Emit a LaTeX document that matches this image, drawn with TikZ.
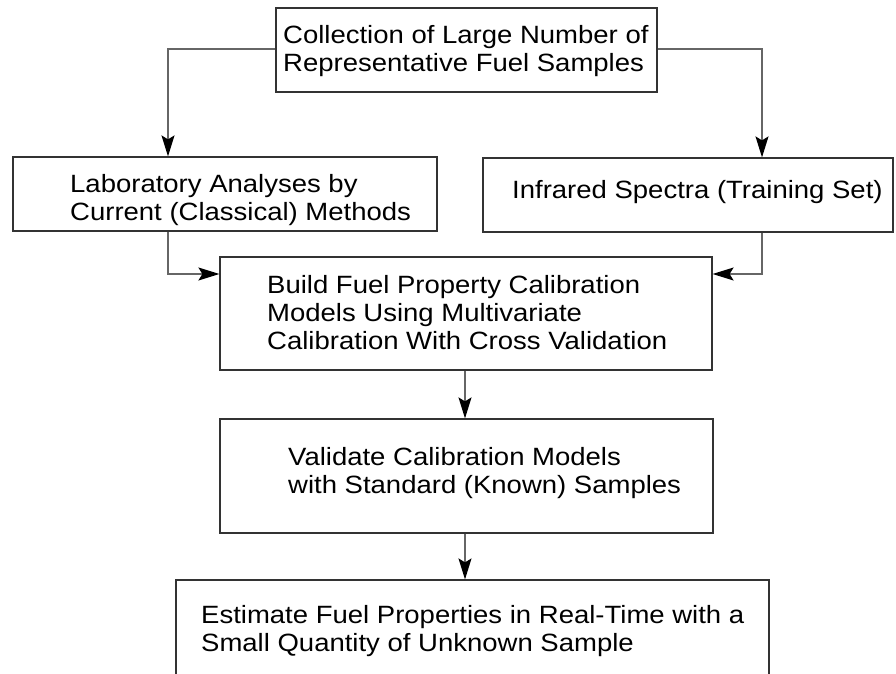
\documentclass[tikz,border=0pt]{standalone}
\usepackage{fontspec}
\setmainfont{Liberation Sans}[FakeStretch=1.1]
\usetikzlibrary{arrows.meta}
\begin{document}
\begin{tikzpicture}[x=1pt,y=-1pt,
  boxshape/.style={draw=black!80,line width=1.2pt,inner sep=0pt},
  txt/.style={anchor=base west,align=left,inner sep=0pt,font=\fontsize{25}{28.3}\selectfont},
  conn/.style={draw=black!60,line width=1.4pt,-{Stealth[length=21pt,width=13pt,inset=4pt,fill=black,color=black]}}]
\useasboundingbox (0,0) rectangle (896,674);
\clip (0,0) rectangle (896,674);
% boxes
\node[boxshape,minimum width=381pt,minimum height=84pt] (top) at (466.5,50) {};
\node[boxshape,minimum width=424pt,minimum height=74pt] (lab) at (225,194) {};
\node[boxshape,minimum width=410pt,minimum height=74pt] (ir) at (688,195) {};
\node[boxshape,minimum width=492pt,minimum height=113pt] (build) at (466,313.5) {};
\node[boxshape,minimum width=493pt,minimum height=114pt] (valid) at (466.5,476) {};
\node[boxshape,minimum width=593pt,minimum height=140pt] (est) at (472.5,650) {};
% texts (anchor at baseline of last line)
\node[txt] (ttop) at (283,72) {Collection of Large Number of\\Representative Fuel Samples};
\node[txt] (tlab) at (70,220.3) {Laboratory Analyses by\\Current (Classical) Methods};
\node[txt] (tir) at (512,198.5) {Infrared Spectra (Training Set)};
\node[txt] (tbuild) at (267,349.6) {Build Fuel Property Calibration\\Models Using Multivariate\\Calibration With Cross Validation};
\node[txt] (tvalid) at (288,493.3) {Validate Calibration Models\\with Standard (Known) Samples};
\node[txt] (test) at (201,651.8) {Estimate Fuel Properties in Real-Time with a\\Small Quantity of Unknown Sample};
% connectors
\coordinate (cl) at (168,49);
\coordinate (cr) at (762,49);
\coordinate (bl) at (168,274);
\coordinate (br) at (762,274);
\coordinate (cm) at (465,0);
\draw[conn] (top.west |- cl) -- (cl) -- (cl |- lab.north);
\draw[conn] (top.east |- cr) -- (cr) -- (cr |- ir.north);
\draw[conn] (bl |- lab.south) -- (bl) -- (bl -| build.west);
\draw[conn] (br |- ir.south) -- (br) -- (br -| build.east);
\draw[conn] (cm |- build.south) -- (cm |- valid.north);
\draw[conn] (cm |- valid.south) -- (cm |- est.north);
\end{tikzpicture}
\end{document}
